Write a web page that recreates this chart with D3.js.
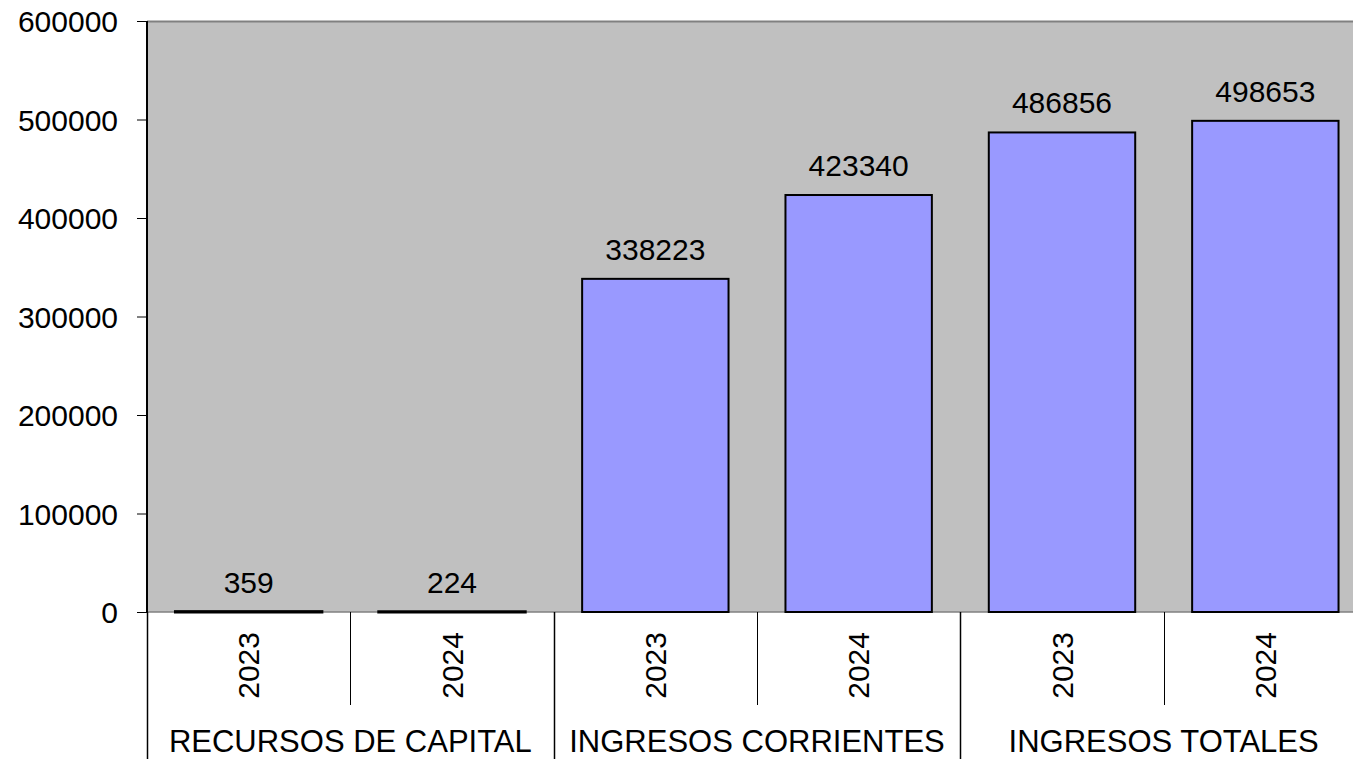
<!DOCTYPE html>
<html>
<head>
<meta charset="utf-8">
<script src="https://cdn.jsdelivr.net/npm/d3@7"></script>
<style>
  body { margin: 0; background: #fff; }
  svg { display: block; font-family: "Liberation Sans", Arial, sans-serif; }
</style>
</head>
<body>
<div id="chart"></div>
<script>
// data
const groups = ['RECURSOS DE CAPITAL', 'INGRESOS CORRIENTES', 'INGRESOS TOTALES'];
const years = ['2023', '2024'];
const values = [359, 224, 338223, 423340, 486856, 498653];
const yTicks = [0, 100000, 200000, 300000, 400000, 500000, 600000];

const width = 1353, height = 759;
const margin = {left: 147, top: 21, right: -14, bottom: 147};
const innerW = width - margin.left - margin.right;
const innerH = height - margin.top - margin.bottom;
const fontSize = 30;

const rows = [];
groups.forEach((g, gi) => years.forEach((y, yi) => {
  rows.push({group: g, year: y, key: g + '|' + y, value: values[gi * years.length + yi]});
}));

const svg = d3.select('#chart').append('svg')
  .attr('width', width).attr('height', height);
const g = svg.append('g').attr('transform', `translate(${margin.left},${margin.top})`);

const x = d3.scaleBand().domain(rows.map(d => d.key)).range([0, innerW]).paddingInner(0.28).paddingOuter(0.14);
const xStep = innerW / rows.length;
const y = d3.scaleLinear().domain([0, 600000]).range([innerH, 0]);

// plot background
g.append('rect').attr('x', 0).attr('y', 0).attr('width', innerW).attr('height', innerH)
  .attr('fill', '#c0c0c0');
g.append('line').attr('x1', 0).attr('x2', innerW).attr('y1', 0.5).attr('y2', 0.5)
  .attr('stroke', '#808080').attr('stroke-width', 2);

// baseline
g.append('line').attr('x1', 0).attr('x2', innerW).attr('y1', innerH).attr('y2', innerH)
  .attr('stroke', '#808080').attr('stroke-width', 1.5);

// bars
g.selectAll('.bar').data(rows).join('rect')
  .attr('class', 'bar')
  .attr('x', d => x(d.key))
  .attr('y', d => y(d.value))
  .attr('width', x.bandwidth())
  .attr('height', d => innerH - y(d.value))
  .attr('fill', '#9999ff')
  .attr('stroke', '#000')
  .attr('stroke-width', d => (innerH - y(d.value)) < 2 ? 3 : 2);

// value labels
g.selectAll('.val').data(rows).join('text')
  .attr('class', 'val')
  .attr('x', d => x(d.key) + x.bandwidth() / 2)
  .attr('y', d => y(d.value) - 19)
  .attr('text-anchor', 'middle')
  .attr('font-size', fontSize)
  .attr('fill', '#000')
  .text(d => d.value);

// y axis
const yAxis = d3.axisLeft(y).tickValues(yTicks).tickSize(10).tickPadding(19).tickFormat(d3.format('d'));
const yAxisG = g.append('g').call(yAxis);
yAxisG.select('.domain').attr('stroke', '#000').attr('stroke-width', 2).attr('d', `M0,0V${innerH}`);
yAxisG.selectAll('.tick line').attr('stroke', '#000');
yAxisG.selectAll('.tick text').attr('font-size', fontSize).attr('font-family', '"Liberation Sans", Arial, sans-serif').attr('fill', '#000').attr('dy', '0.36em');

// category separators below axis
const sep = g.append('g');
rows.forEach((d, i) => {
  const xx = Math.round(i * xStep) + 0.5;
  const full = i % years.length === 0;
  sep.append('line')
    .attr('x1', xx).attr('x2', xx)
    .attr('y1', innerH).attr('y2', full ? height - margin.top : innerH + 93)
    .attr('stroke', '#000').attr('stroke-width', full ? 1.5 : 1);
});

// year labels
g.selectAll('.year').data(rows).join('text')
  .attr('class', 'year')
  .attr('transform', d => `translate(${x(d.key) + x.bandwidth() / 2 + 10.5},${innerH + 20}) rotate(-90)`)
  .attr('text-anchor', 'end')
  .attr('font-size', fontSize)
  .attr('fill', '#000')
  .text(d => d.year);

// group labels
g.selectAll('.grp').data(groups).join('text')
  .attr('class', 'grp')
  .attr('x', (d, i) => (i + 0.5) * xStep * years.length)
  .attr('y', innerH + 140)
  .attr('text-anchor', 'middle')
  .attr('font-size', 31)
  .attr('fill', '#000')
  .text(d => d);
</script>
</body>
</html>
